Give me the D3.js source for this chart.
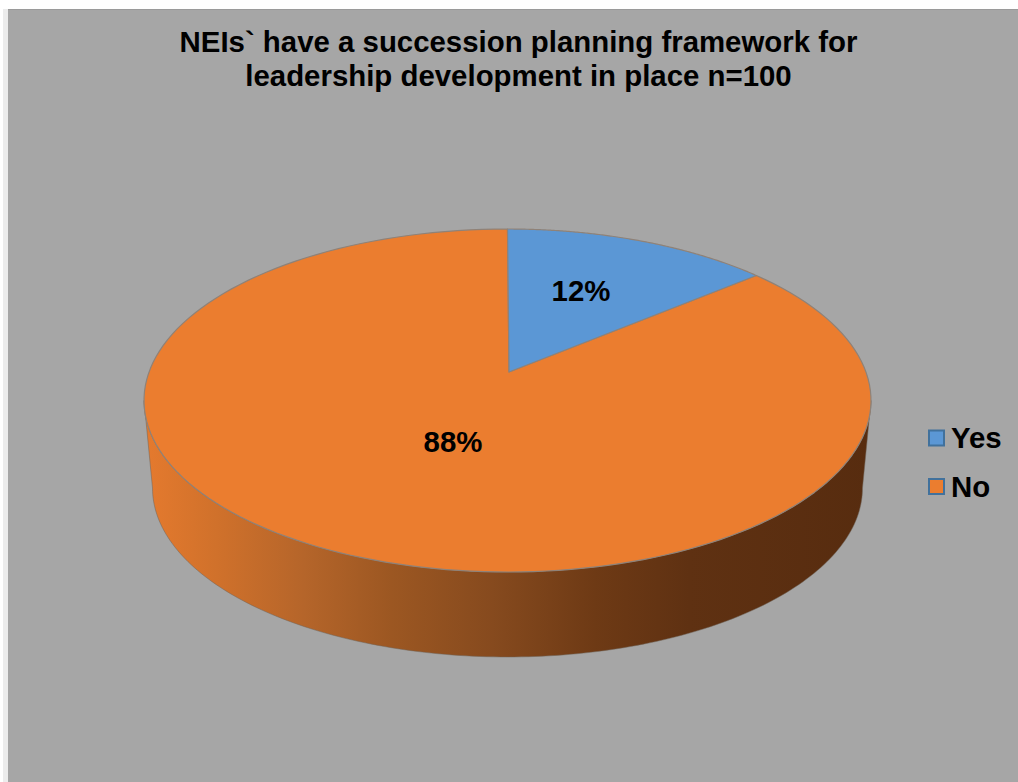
<!DOCTYPE html>
<html>
<head>
<meta charset="utf-8">
<script src="https://cdn.jsdelivr.net/npm/d3@7"></script>
<style>
html,body{margin:0;padding:0;background:#fff}
svg{display:block}
text{font-family:"Liberation Sans",Arial,sans-serif;font-weight:700;fill:#000}
</style>
</head>
<body>
<svg id="chart" width="1018" height="782"></svg>
<script>
const categories = ["Yes", "No"];
const shares = [12, 88];
const sliceColors = ["#5b97d5", "#eb7d2f"];
const titleLines = ["NEIs` have a succession planning framework for", "leadership development in place n=100"];

const svg = d3.select("#chart");
const defs = svg.append("defs");

// Panel and its pale left edge
svg.append("rect").attr("x", 3).attr("y", 9).attr("width", 5).attr("height", 773).attr("fill", "#ececec");
svg.append("rect").attr("x", 8).attr("y", 9).attr("width", 1010).attr("height", 773).attr("fill", "#a6a6a6");
svg.append("rect").attr("x", 8).attr("y", 9).attr("width", 1010).attr("height", 1).attr("fill", "#9a9a9a");

// Title
svg.append("g").selectAll("text").data(titleLines).join("text")
  .attr("x", 518.5).attr("y", (d, i) => 52 + i * 34)
  .attr("text-anchor", "middle").attr("font-size", 29.4)
  .text(d => d);

// Tilted pie geometry: the lid is an ellipse, the apex sits above its centre
const lid = { cx: 507.5, cy: 400.5, rx: 363.5, ry: 171.5, apexX: 509, apexY: 372 };
const rim = { cx: 507.5, cy: 488, rx: 355, ry: 169 };

const slices = d3.pie().sort(null).value(d => d)(shares);

const onEllipse = (e, a) => [e.cx + e.rx * Math.sin(a), e.cy - e.ry * Math.cos(a)];
const arcPoints = (e, a0, a1, n = 160) =>
  d3.range(n + 1).map(i => onEllipse(e, a0 + (a1 - a0) * i / n));

// Side wall: visible lower half between the lid and the rim
const wallGrad = defs.append("linearGradient").attr("id", "wall")
  .attr("gradientUnits", "userSpaceOnUse")
  .attr("x1", lid.cx - lid.rx).attr("x2", lid.cx + lid.rx).attr("y1", 0).attr("y2", 0);
[[0, "#e57a2e"], [0.1, "#d0712b"], [0.22, "#b5652a"], [0.34, "#9c5722"], [0.48, "#864a1e"], [0.62, "#6e3a15"], [0.75, "#5f3112"], [1, "#572c0f"]]
  .forEach(([o, c]) => wallGrad.append("stop").attr("offset", o).attr("stop-color", c));

const line = d3.line();
const wallPts = arcPoints(lid, Math.PI / 2, 3 * Math.PI / 2)
  .concat(arcPoints(rim, 3 * Math.PI / 2, Math.PI / 2));
svg.append("path").attr("d", line(wallPts) + "Z")
  .attr("fill", "url(#wall)").attr("stroke", "#6f6358").attr("stroke-width", 1).attr("stroke-opacity", 0.5);

// Lid slices, "No" first so "Yes" sits on top
svg.append("g").selectAll("path").data(slices.slice().reverse()).join("path")
  .attr("d", d => line([[lid.apexX, lid.apexY]].concat(arcPoints(lid, d.startAngle, d.endAngle))) + "Z")
  .attr("fill", d => sliceColors[d.index])
  .attr("stroke", "#8f8278").attr("stroke-width", 1.2).attr("stroke-linejoin", "round");

// Value labels
const labelPos = [[581, 301], [453, 452]];
svg.append("g").selectAll("text").data(shares).join("text")
  .attr("x", (d, i) => labelPos[i][0]).attr("y", (d, i) => labelPos[i][1])
  .attr("text-anchor", "middle").attr("font-size", 29.4)
  .text(d => d + "%");

// Legend
const legendY = d3.scalePoint().domain(categories).range([438, 486.5]);
const legend = svg.append("g").selectAll("g").data(categories).join("g")
  .attr("transform", d => `translate(929,${legendY(d)})`);
legend.append("rect").attr("x", 0).attr("y", -7.5).attr("width", 15).attr("height", 15)
  .attr("fill", (d, i) => sliceColors[i]).attr("stroke", "#41719c").attr("stroke-width", 2);
legend.append("text").attr("x", 22).attr("y", 10).attr("font-size", 29.4).text(d => d);
</script>
</body>
</html>
